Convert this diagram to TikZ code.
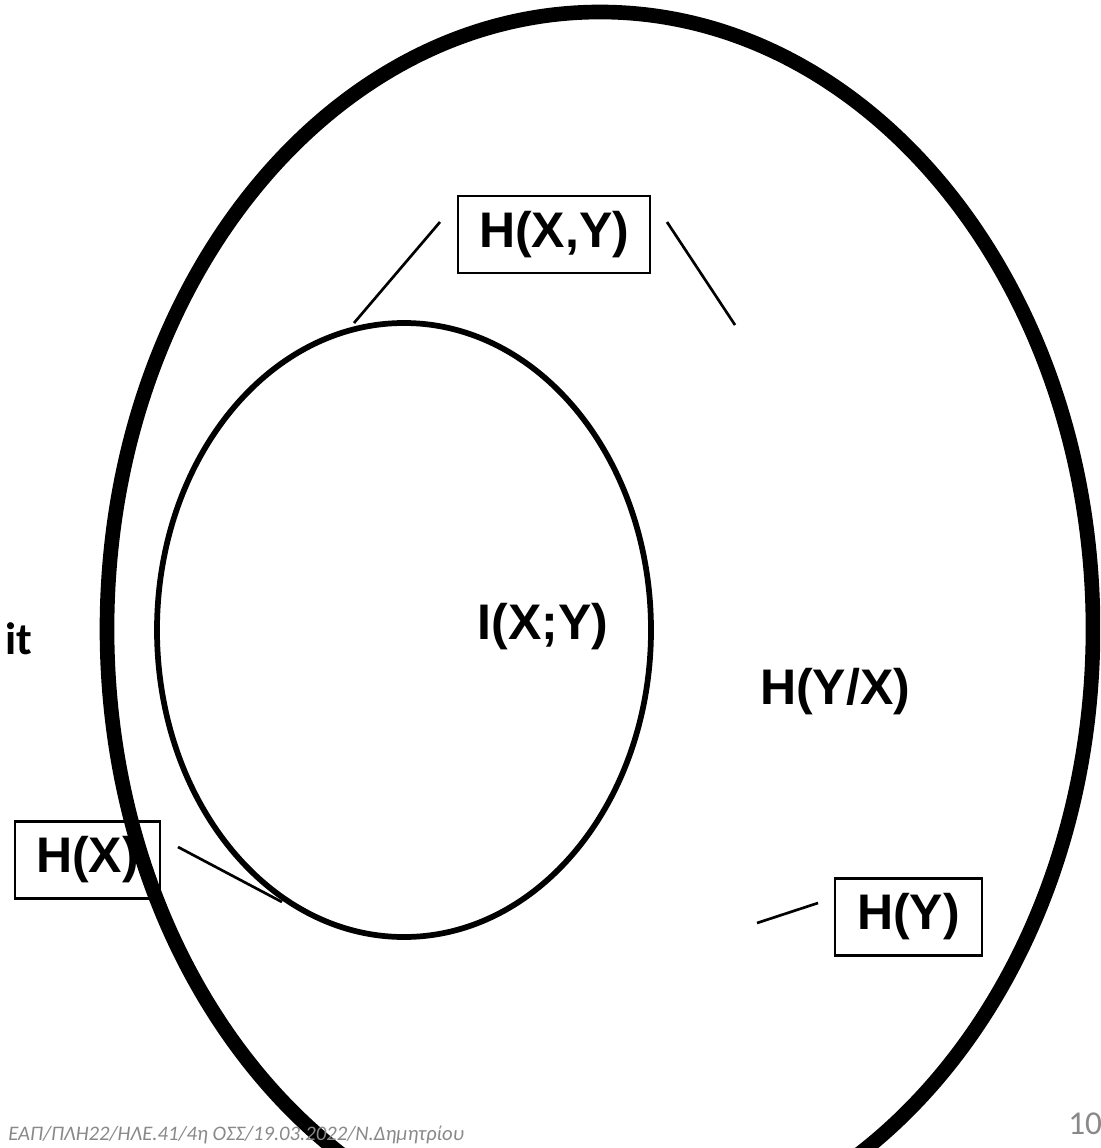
\documentclass[tikz,border=0pt]{standalone}
\usepackage{fontspec}
\setmainfont{Liberation Sans}
\newfontfamily\calib{Carlito}
\usetikzlibrary{shapes.geometric}
\definecolor{footgrey}{RGB}{137,137,137}
\tikzset{
  lbl/.style={font=\fontsize{37.5pt}{45pt}\selectfont\bfseries, inner sep=0pt},
  boxlbl/.style={lbl, draw, line width=2pt, minimum height=57.75pt},
  leader/.style={line width=2pt},
  bigring/.style={ellipse, draw, line width=11pt, inner sep=0pt},
  smallring/.style={ellipse, draw, line width=4.3pt, inner sep=0pt},
  foot/.style={text=footgrey, inner sep=0pt}
}
\begin{document}
\begin{tikzpicture}[x=0.75pt,y=-0.75pt]
\clip (0,0) rectangle (1100,1148);
\fill[white] (0,0) rectangle (1100,1148);
% ellipses
\node[bigring, minimum width=739.5pt, minimum height=925.5pt] (outer) at (600,629) {};
\node[smallring, minimum width=370.5pt, minimum height=460.5pt] (inner) at (404,630) {};
% labels
\node[boxlbl, minimum width=144pt] (hxy) at (554,234.5) {H(X,Y)};
\node[boxlbl, minimum width=108.75pt] (hx) at (87.5,860) {H(X)};
\node[boxlbl, minimum width=110.25pt] (hy) at (908.5,917) {H(Y)};
\node[lbl] (ixy) at (543,627) {I(X;Y)};
\node[lbl] (hyx) at (835,692) {H(Y/X)};
\node[font=\calib\fontsize{34pt}{38pt}\selectfont\bfseries, inner sep=0pt, anchor=base west] (it) at (5,654) {it};
% leader ends
\coordinate (hxyA1) at (440,222);
\coordinate (hxyA2) at (354,323);
\coordinate (hxyB1) at (667,222);
\coordinate (hxyB2) at (735,325);
\coordinate (hxA) at (178,847);
\coordinate (hxB) at (282,902);
\coordinate (hyA) at (818,903);
\coordinate (hyB) at (757,923);
\draw[leader] (hxyA1) -- (hxyA2);
\draw[leader] (hxyB1) -- (hxyB2);
\draw[leader] (hxA) -- (hxB);
\draw[leader] (hyA) -- (hyB);
% footer
\node[foot, font=\calib\itshape\fontsize{15.5pt}{19pt}\selectfont, anchor=base west] (footer) at (8,1140) {ΕΑΠ/ΠΛΗ22/ΗΛΕ.41/4η ΟΣΣ/19.03.2022/Ν.Δημητρίου};
\node[foot, font=\calib\fontsize{25pt}{29pt}\selectfont, anchor=base west] (pageno) at (1068,1134) {10};
\end{tikzpicture}
\end{document}
